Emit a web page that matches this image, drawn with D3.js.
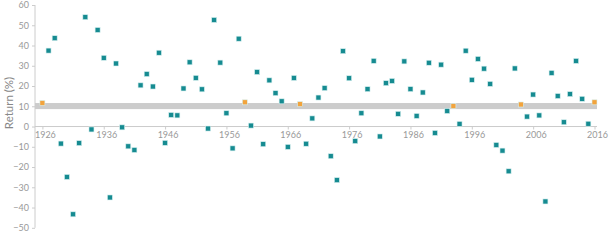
<!DOCTYPE html>
<html>
<head>
<meta charset="utf-8">
<script src="https://cdn.jsdelivr.net/npm/d3@7"></script>
<style>
  body { margin: 0; background: #fff; }
  text { font-family: Lato, "Open Sans", sans-serif; }
</style>
</head>
<body>
<div id="chart"></div>
<script>
var chart_width  = 610;
var chart_height = 242;

// annual total returns, 1926 - 2016 (%)
var first_year = 1926;
var returns = [
  11.62, 37.49, 43.61, -8.42, -24.90, -43.34, -8.19, 53.99, -1.44, 47.67,
  33.92, -35.03, 31.12, -0.41, -9.78, -11.59, 20.34, 25.90, 19.75, 36.44,
  -8.07, 5.71, 5.50, 18.79, 31.71, 24.02, 18.37, -0.99, 52.62, 31.56,
  6.56, -10.78, 43.36, 11.96, 0.47, 26.89, -8.73, 22.80, 16.48, 12.45,
  -10.06, 23.98, 11.06, -8.50, 4.01, 14.31, 18.98, -14.66, -26.47, 37.20,
  23.84, -7.18, 6.56, 18.44, 32.42, -4.91, 21.41, 22.51, 6.27, 32.16,
  18.47, 5.23, 16.81, 31.49, -3.17, 30.55, 7.67, 10.08, 1.31, 37.43,
  23.07, 33.36, 28.58, 21.04, -9.11, -11.89, -22.10, 28.68, 10.88, 4.91,
  15.79, 5.49, -37.00, 26.46, 15.06, 2.11, 16.00, 32.39, 13.69, 1.38,
  11.96
];
var band = [8.6, 11.6];          // shaded "average" band
var highlight = [10, 12];        // years inside this range are orange
var year_ticks = [1926, 1936, 1946, 1956, 1966, 1976, 1986, 1996, 2006, 2016];
var return_ticks = [-50, -40, -30, -20, -10, 0, 10, 20, 30, 40, 50, 60];

var data = returns.map(function (r, i) { return { year: first_year + i, value: r }; });

var x = d3.scaleLinear()
    .domain([1926, 2016])
    .range([42.4, 594.5]);

var y = d3.scaleLinear()
    .domain([-50, 60])
    .range([227.8, 5]);

var svg = d3.select("#chart")
    .append("svg")
    .attr("width", chart_width)
    .attr("height", chart_height);

// gray band
svg.append("rect")
    .attr("x", 35)
    .attr("width", 597 - 35)
    .attr("y", y(band[1]))
    .attr("height", y(band[0]) - y(band[1]))
    .style("fill", "#cccccc");

// y axis
var yAxis = svg.append("g")
    .attr("transform", "translate(35,0)")
    .call(d3.axisLeft(y).tickValues(return_ticks).tickSize(3).tickPadding(3)
      .tickFormat(function (d) { return d < 0 ? "\u2212" + Math.abs(d) : d; }));
yAxis.select(".domain").attr("d", "M0," + y(60) + "V" + y(-50)).style("stroke", "#cccccc");
yAxis.selectAll(".tick line").style("stroke", "#cccccc");
yAxis.selectAll("text").style("fill", "#999999").style("font-size", "9px");

// x axis along zero
var xAxis = svg.append("g")
    .attr("transform", "translate(0," + y(0) + ")")
    .call(d3.axisBottom(x).tickValues(year_ticks).tickFormat(d3.format("d")).tickSize(3).tickPadding(2));
xAxis.select(".domain").attr("d", "M35,0H597").style("stroke", "#cccccc");
xAxis.selectAll(".tick line").style("stroke", "#cccccc");
xAxis.selectAll("text").style("fill", "#999999").style("font-size", "9px").attr("dx", 2.5);

// axis title
svg.append("text")
    .attr("transform", "translate(13,103) rotate(-90)")
    .attr("text-anchor", "middle")
    .style("fill", "#888888")
    .style("font-size", "11.5px")
    .text("Return (%)");

// points
var s = 5;
svg.append("g")
  .selectAll("rect")
  .data(data)
  .enter()
  .append("rect")
    .attr("x", function (d) { return x(d.year) - s / 2; })
    .attr("y", function (d) { return y(d.value) - s / 2; })
    .attr("width", s)
    .attr("height", s)
    .style("fill", function (d) {
      return d.value >= highlight[0] && d.value <= highlight[1] ? "#f2a33c" : "#168b91";
    })
    .style("stroke", "#d8f0f0")
    .style("stroke-width", 0.6);
</script>
</body>
</html>
